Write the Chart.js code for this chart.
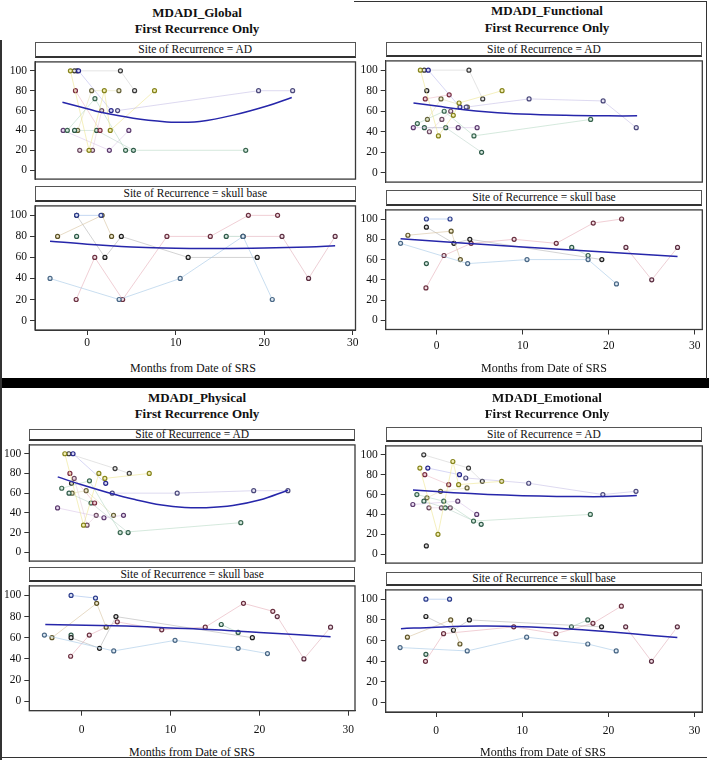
<!DOCTYPE html>
<html><head><meta charset="utf-8">
<script src="https://cdn.jsdelivr.net/npm/chart.js@4.4.1/dist/chart.umd.min.js"></script>
<style>
html,body{margin:0;padding:0;background:#fff;}
#root{position:relative;width:709px;height:760px;overflow:hidden;background:#fff;font-family:"Liberation Serif","Times New Roman",serif;color:#111;}
.title{position:absolute;font-weight:bold;font-size:13px;white-space:nowrap;transform:translate(-50%,-50%);}
.strip{position:absolute;box-sizing:border-box;border:1px solid #555;border-bottom:2px solid #333;background:#fff;font-size:11.5px;text-align:center;white-space:nowrap;overflow:visible;}
.axt{position:absolute;font-size:12px;white-space:nowrap;transform:translate(-50%,-50%);}
.rule{position:absolute;background:#333;}
canvas{position:absolute;}
</style></head><body><div id="root"></div>
<script>
// ---------- tick labels ----------
const yTicks = [0, 20, 40, 60, 80, 100];
const xTicks = [0, 10, 20, 30];

// ---------- Site of Recurrence = AD (x in months, patient id per point) ----------
const adX = [-2.72,-2.25,-1.9,-1.45,-0.98,-1.33,-1.15,-1.43,-1.08,-0.85,0.2,0.5,0.6,0.87,1.05,1.45,1.63,1.93,2.5,2.6,2.7,3.43,3.58,3.75,4.33,4.7,5.22,5.35,7.6,10.74,17.9,19.35,23.2];
const adPatient = [5,2,1,6,3,4,10,7,8,9,1,8,9,2,7,4,9,1,5,1,3,0,8,6,2,5,7,6,1,0,2,0,0];
const globalAD = [40,40,100,100,100,80,100,40,40,20,20,80,20,72,40,40,60,80,20,40,60,60,80,100,20,40,20,80,80,null,20,80,80];
const functionalAD = [44,48,100,100,100,72,80,44,52,40,36,72,52,60,44,76,60,56,44,68,64,64,64,100,36,44,20,72,80,72,52,70,44];
const physicalAD = [45,65,100,100,100,80,70,60,60,75,27.5,62.5,27.5,72.5,50,50,37.5,80,35,75,70,60,37.5,85,20,37.5,20,80,80,60,30,62.5,62.5];
const emotionalAD = [50,60,86.7,100,86.7,80,8.3,53.3,56.7,46.7,20,63.3,46.7,53.3,46.7,70,46.7,93.3,53.3,70,80,76.7,66.7,86.7,33.3,40,30,73.3,73.3,71.4,40,60,63.3];

// ---------- Site of Recurrence = skull base ----------
const sbX = [-4.2,3.6,10.5,17.6,20.9, -1.2,1.55, -3.35,1.68,2.75, -1.2,2.0,3.85,11.4,19.2, -1.25,0.85,4.0,9.0,13.9,18.2,21.5, -1.2, 15.7,17.6, 17.6,22.0,25.0,28.0];
const sbPatient = [0,0,0,0,0, 1,1, 2,2,2, 3,3,3,3,3, 4,4,4,4,4,4,4, 7, 5,5, 6,6,6,6];
const globalSB = [40,20,40,80,20, 100,100, 80,100,80, 100,60,80,60,60, 20,60,20,80,80,100,100, 80, 80,80, 80,80,40,80];
const functionalSB = [76,56,60,60,36, 100,100, 84,88,60, 92,76,80,null,60, 32,64,76,80,76,96,100, 56, 72,64, null,72,40,72];
const physicalSB = [62.5,47.5,57.5,50,45, 100,97.5, 60,92.5,70, 60,50,80,null,60, 42.5,62.5,75,67.5,70,92.5,85, 62.5, 72.5,65, null,80,40,70];
const emotionalSB = [53.3,50,63.3,56.7,50, 100,100, 63.3,80,56.7, 83.3,70,80,null,73.3, 40,66.7,null,73.3,66.7,76.7,93.3, 46.7, 73.3,80, null,73.3,40,73.3];

// ---------- fitted curves ----------
const globalADFitX = [-2.8,0,1.4,5.2,9,10.5,12.7,16.5,20.3,23.1];
const globalADFitY = [68.3,61.8,58.5,52.3,48.6,48.3,48.9,55.4,64.6,73.2];
const functionalADFitX = [-2.7,0,3.2,6,9.8,15,20,23.3];
const functionalADFitY = [68,65,61.5,59.3,57.3,56,55.5,55.5];
const physicalADFitX = [-2.7,0,3,6,9,11.6,14,17,20,23.2];
const physicalADFitY = [76.5,68.5,60.5,53.5,48,45.5,45.3,47.5,53,63];
const emotionalADFitX = [-2.7,0,4,8,12,16,20,23.3];
const emotionalADFitY = [64.5,63,61,59.5,58.5,58,58,59];
const globalSBFitX = [-4.2,0,5,10,15,20,25,28];
const globalSBFitY = [75.5,72.5,70,68.7,68.5,69,70,71];
const functionalSBFitX = [-4.2,10,28];
const functionalSBFitY = [80.5,72.5,63];
const physicalSBFitX = [-4.1,5,10,15,20,28];
const physicalSBFitY = [72.5,71,69.3,67.5,65,61];
const emotionalSBFitX = [-4.1,0,5,10,15,20,25,28];
const emotionalSBFitY = [71.5,73,74,73.5,71.5,68.5,65,63];

// ---------- styles ----------
const FONT = '"Liberation Serif","Times New Roman",serif';
const adPal = [
  {pt:'#4c4a7c', fill:'#e6e4f4', line:'rgba(165,155,215,0.38)'},
  {pt:'#86841c', fill:'#f4f0b8', line:'rgba(235,225,125,0.5)'},
  {pt:'#3a6650', fill:'#d6eadf', line:'rgba(150,200,170,0.4)'},
  {pt:'#26268a', fill:'#d8d8f4', line:'rgba(150,150,230,0.38)'},
  {pt:'#7a2e40', fill:'#f0d0d8', line:'rgba(225,150,165,0.38)'},
  {pt:'#5c3c6e', fill:'#eadcf2', line:'rgba(200,170,220,0.4)'},
  {pt:'#3a3a3a', fill:'#e8e8e8', line:'rgba(190,190,190,0.42)'},
  {pt:'#2e5a48', fill:'#d8e8e0', line:'rgba(160,195,180,0.4)'},
  {pt:'#66623a', fill:'#eeeacc', line:'rgba(220,215,165,0.45)'},
  {pt:'#6a4a60', fill:'#f0e0ea', line:'rgba(220,185,205,0.4)'},
  {pt:'#262626', fill:'#d8d8d8', line:'rgba(180,180,180,0.4)'}
];
const sbPal = [
  {pt:'#4a6886', fill:'#dfeaf4', line:'rgba(165,200,230,0.6)'},
  {pt:'#2c3c8c', fill:'#dde4f6', line:'rgba(160,190,235,0.6)'},
  {pt:'#5e5428', fill:'#f0e8cc', line:'rgba(215,195,160,0.6)'},
  {pt:'#1e1e1e', fill:'#e0e0e0', line:'rgba(175,175,175,0.55)'},
  {pt:'#6a3040', fill:'#f2dce2', line:'rgba(230,175,185,0.6)'},
  {pt:'#2e5a48', fill:'#d8e8e0', line:'rgba(155,195,175,0.5)'},
  {pt:'#5a2e40', fill:'#f0dce4', line:'rgba(225,175,185,0.6)'},
  {pt:'#2e5a48', fill:'#d8e8e0', line:'rgba(155,195,175,0.5)'}
];

// ---------- layout ----------
const panels = [
  {title:'MDADI_Global', tx:197, ty1:13, ty2:29, plotL:35, plotR:355.5, xMin:-5.9, xMax:30.3,
   adStrip:[41.5,57.5], ad:[57.5,185], sbStrip:[186,202], sb:[202,330], xTickPad:1, axisX:193, axisY:368,
   adY:globalAD, sbY:globalSB, adFit:[globalADFitX,globalADFitY], sbFit:[globalSBFitX,globalSBFitY]},
  {title:'MDADI_Functional', tx:547, ty1:11, ty2:27.5, plotL:385.7, plotR:702.3, xMin:-5.93, xMax:30.88,
   adStrip:[41.5,57], ad:[57,188], sbStrip:[190,205.5], sb:[205.5,329.5], xTickPad:5, axisX:544, axisY:368,
   adY:functionalAD, sbY:functionalSB, adFit:[functionalADFitX,functionalADFitY], sbFit:[functionalSBFitX,functionalSBFitY]},
  {title:'MDADI_Physical', tx:197, ty1:398, ty2:414, plotL:29.3, plotR:355, xMin:-5.9, xMax:30.75,
   adStrip:[429,441], ad:[441,566.5], sbStrip:[567,582], sb:[582,710.7], xTickPad:7.5, axisX:192, axisY:752,
   adY:physicalAD, sbY:physicalSB, adFit:[physicalADFitX,physicalADFitY], sbFit:[physicalSBFitX,physicalSBFitY]},
  {title:'MDADI_Emotional', tx:547, ty1:398, ty2:414, plotL:385.7, plotR:702.3, xMin:-5.87, xMax:30.9,
   adStrip:[427,442], ad:[442,568.7], sbStrip:[571.5,586], sb:[586,712], xTickPad:7, axisX:543, axisY:752,
   adY:emotionalAD, sbY:emotionalSB, adFit:[emotionalADFitX,emotionalADFitY], sbFit:[emotionalSBFitX,emotionalSBFitY]}
];

const root = document.getElementById('root');
function addDiv(cls, style, text){
  const d = document.createElement('div');
  d.className = cls;
  for (const k in style) d.style[k] = style[k];
  if (text != null) d.textContent = text;
  root.appendChild(d);
  return d;
}

const framePlugin = {
  id:'frame',
  beforeDatasetsDraw(chart){
    const {ctx, chartArea:a} = chart;
    ctx.save();
    ctx.strokeStyle = '#3a3a3a';
    ctx.lineWidth = 1.3;
    ctx.strokeRect(a.left, a.top, a.right - a.left, a.bottom - a.top);
    ctx.restore();
  }
};

function buildDatasets(xs, ys, groups, pal, fit){
  const ds = [];
  ds.push({data: fit[0].map((x,i)=>({x:x, y:fit[1][i]})), showLine:true, borderColor:'#2626aa',
           borderWidth:1.5, pointRadius:0, tension:0.4, fill:false, order:0});
  const n = Math.max.apply(null, groups) + 1;
  for (let g = 0; g < n; g++){
    const pts = [];
    xs.forEach((x,i)=>{ if (groups[i] === g && ys[i] != null) pts.push({x:x, y:ys[i]}); });
    pts.sort((a,b)=>a.x-b.x);
    ds.push({data:pts, showLine:true, borderColor:pal[g].line, borderWidth:1, fill:false,
             pointRadius:2, pointBorderWidth:1.2, pointBorderColor:pal[g].pt,
             pointBackgroundColor:pal[g].fill, order:1});
  }
  return ds;
}

function makeChart(p, top, bot, showX, xs, ys, groups, pal, fit){
  const Y_W = 32, PAD_R = 10, PAD_T = 6, PAD_B = 4, X_H = 24;
  const canvasLeft = Math.round(p.plotL - Y_W);
  const yW = p.plotL - canvasLeft;
  const canvasTop = Math.round(top - PAD_T);
  const padT = top - canvasTop;
  const plotW = p.plotR - p.plotL, plotH = bot - top;
  const w = Math.ceil(yW + plotW + PAD_R);
  const padR = w - yW - plotW;
  const h = Math.ceil(padT + plotH + (showX ? X_H : PAD_B));
  const xH = h - padT - plotH;
  const cv = document.createElement('canvas');
  cv.width = w; cv.height = h;
  cv.style.width = w + 'px'; cv.style.height = h + 'px';
  cv.style.left = canvasLeft + 'px'; cv.style.top = canvasTop + 'px';
  root.appendChild(cv);
  new Chart(cv, {
    type:'scatter',
    data:{datasets: buildDatasets(xs, ys, groups, pal, fit)},
    options:{
      responsive:false, animation:false, devicePixelRatio:1,
      layout:{padding:{left:0, top:padT, right:padR, bottom: showX ? 0 : xH}},
      plugins:{legend:{display:false}, tooltip:{enabled:false}},
      scales:{
        x:{type:'linear', min:p.xMin, max:p.xMax, display:showX,
           afterBuildTicks:s=>{ s.ticks = xTicks.map(v=>({value:v})); },
           afterFit:s=>{ s.height = xH; },
           grid:{drawOnChartArea:false, drawTicks:true, tickLength:5, color:'#333'},
           border:{display:true, color:'#333'},
           ticks:{font:{family:FONT, size:11.5}, color:'#111', padding:p.xTickPad, maxRotation:0, autoSkip:false}},
        y:{type:'linear', min:-9, max:109,
           afterBuildTicks:s=>{ s.ticks = yTicks.map(v=>({value:v})); },
           afterFit:s=>{ s.width = yW; },
           grid:{drawOnChartArea:false, drawTicks:true, tickLength:5, color:'#333'},
           border:{display:true, color:'#333'},
           ticks:{font:{family:FONT, size:11.5}, color:'#111', padding:3}}
      }
    },
    plugins:[framePlugin]
  });
}

panels.forEach(p=>{
  addDiv('title', {left:p.tx+'px', top:p.ty1+'px'}, p.title);
  addDiv('title', {left:p.tx+'px', top:p.ty2+'px'}, 'First Recurrence Only');
  const sw = (p.plotR - p.plotL) + 'px';
  let hh = p.adStrip[1] - p.adStrip[0];
  addDiv('strip', {left:p.plotL+'px', top:p.adStrip[0]+'px', width:sw, height:hh+'px', lineHeight:(hh-3)+'px'}, 'Site of Recurrence = AD');
  hh = p.sbStrip[1] - p.sbStrip[0];
  addDiv('strip', {left:p.plotL+'px', top:p.sbStrip[0]+'px', width:sw, height:hh+'px', lineHeight:(hh-3)+'px'}, 'Site of Recurrence = skull base');
  makeChart(p, p.ad[0], p.ad[1], false, adX, p.adY, adPatient, adPal, p.adFit);
  makeChart(p, p.sb[0], p.sb[1], true, sbX, p.sbY, sbPatient, sbPal, p.sbFit);
  addDiv('axt', {left:p.axisX+'px', top:p.axisY+'px'}, 'Months from Date of SRS');
});

// frame rules and separator bar
addDiv('rule', {left:'0px', top:'378px', width:'709px', height:'10px', background:'#000'});
addDiv('rule', {left:'0px', top:'40px', width:'2px', height:'720px'});
addDiv('rule', {left:'354px', top:'1px', width:'353px', height:'1px'});
addDiv('rule', {left:'706px', top:'1px', width:'1px', height:'378px'});
addDiv('rule', {left:'0px', top:'757px', width:'707px', height:'1px'});
</script></body></html>
